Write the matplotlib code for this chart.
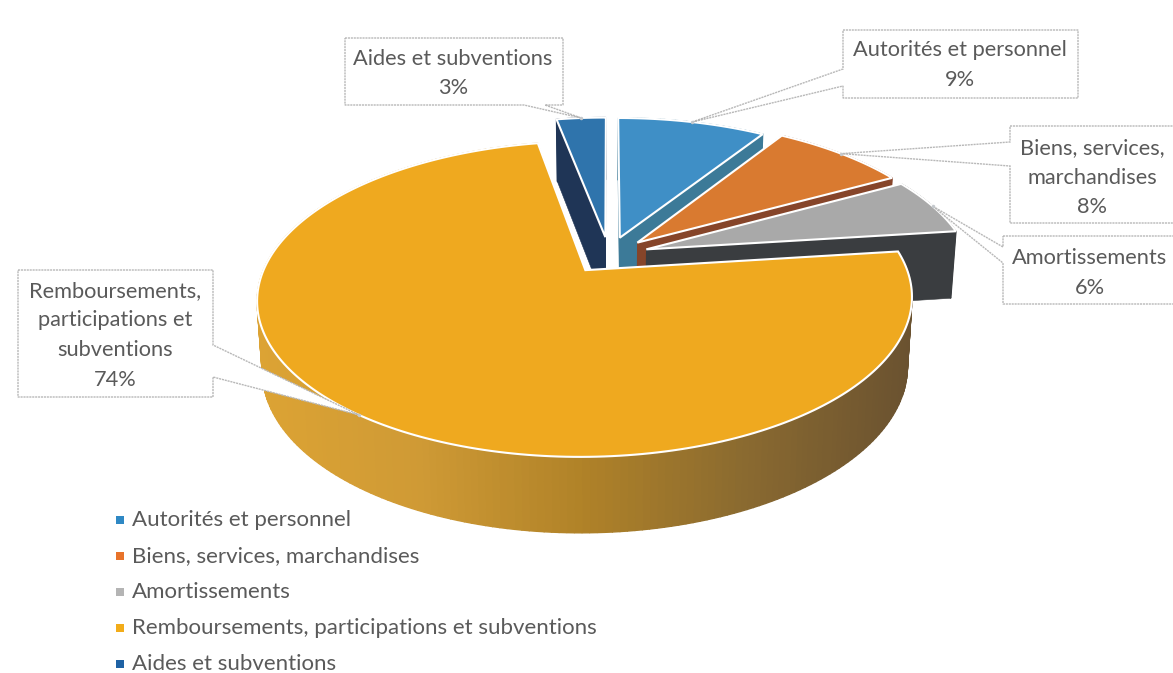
import numpy as np
import matplotlib
matplotlib.use('agg')
import matplotlib.pyplot as plt
from matplotlib.colors import LinearSegmentedColormap
from matplotlib.patches import Polygon

categories = ["Autorités et personnel", "Biens, services, marchandises", "Amortissements",
              "Remboursements, participations et subventions", "Aides et subventions"]
values = [9, 8, 6, 74, 3]
label_lines = ["Autorités et personnel", "Biens, services,\nmarchandises", "Amortissements",
               "Remboursements,\nparticipations et\nsubventions", "Aides et subventions"]
top_colors = ["#3f8fc6", "#d97a30", "#a9a9a9", "#efa91f", "#2f74ac"]
wall_colors = ["#3c7a98", "#86452a", "#3a3d40", "#c8922e", "#1f3556"]
legend_colors = ["#2f88c4", "#e8732a", "#b4b4b4", "#f2ac1a", "#1f62a4"]

# label box (left, top, right, bottom), two callout roots
boxes = [(843, 30, 1078, 98), (1010, 126, 1180, 223), (1003, 236, 1180, 304),
         (18, 270, 213, 397), (345, 38, 563, 105)]
roots = [((843, 69), (843, 86)), ((1010, 142), (1010, 166)), ((1003, 247), (1003, 263)),
         ((213, 345), (213, 377)), ((524, 105), (545, 105))]
text_x = [960, 1092, 1090, 115, 453]
text_y = [50, 148, 258, 291, 59]

# projection of the pie plane onto the page
CX, CY, AX, BY, PERSP, DEPTH, EXPLODE = 609, 255, 316, 147, 0.18, 68, 0.125
radius = [1.0, 1.025, 1.02, 1.0, 1.0]


def project(u, v, z=0):
    w = 1 + PERSP * v
    x = CX + AX * u / w * (1 - 0.015 * z)
    y = CY - BY * v / w + DEPTH / np.sqrt(w) * z
    return np.column_stack([np.atleast_1d(x), np.atleast_1d(y)])


def rim(t, mid, r=1.0):
    ex, ey = EXPLODE * np.sin(mid), EXPLODE * np.cos(mid)
    return ex + r * np.sin(t), ey + r * np.cos(t)


fig, ax = plt.subplots(figsize=(11.73, 6.73), dpi=100)
fig.subplots_adjust(0, 0, 1, 1)
ax.set_xlim(0, 1173)
ax.set_ylim(673, 0)
ax.axis("off")

plt.rcParams['font.family'] = ['Lato', 'DejaVu Sans']
TEXT = "#5a5a5a"

angles = np.radians(np.cumsum([0] + values) * 3.6)
gradient = LinearSegmentedColormap.from_list(
    "wall", ["#dca334", "#cf9a35", "#b08228", "#8a6a30", "#6a5230"])

draw_order = [4, 0, 1, 2, 3]
tips = {}
for layer, i in enumerate(draw_order):
    start, end = angles[i], angles[i + 1]
    mid = (start + end) / 2
    t = np.linspace(start, end, 240 if values[i] > 50 else 40)
    u, v = rim(t, mid, radius[i])
    apex_u, apex_v = EXPLODE * np.sin(mid), EXPLODE * np.cos(mid)

    # outer wall
    top_edge = project(u, v, 0)
    low_edge = project(u, v, 1)
    for k in range(len(t) - 1):
        quad = [top_edge[k], top_edge[k + 1], low_edge[k + 1], low_edge[k]]
        if i == 3:
            c = gradient(np.clip((top_edge[k, 0] - 257) / 656, 0, 1))
        else:
            c = wall_colors[i]
        ax.add_patch(Polygon(quad, closed=True, fc=c, ec=c, lw=1.0, zorder=2 + layer))

    # the two cut faces
    for e in (0, -1):
        face = np.vstack([project(apex_u, apex_v, 0), top_edge[e], low_edge[e], project(apex_u, apex_v, 1)])
        ax.add_patch(Polygon(face, closed=True, fc=wall_colors[i], ec=wall_colors[i], lw=0.4, zorder=2 + layer))

    # top of the slice
    outline = np.vstack([project(apex_u, apex_v, 0), top_edge])
    ax.add_patch(Polygon(outline, closed=True, fc=top_colors[i], ec="white", lw=1.5, joinstyle="miter", zorder=2 + layer))

    tips[i] = project(*rim(mid, mid, radius[i]))[0]

# data labels with callouts
for i in range(len(values)):
    left, top, right, bottom = boxes[i]
    r1, r2 = roots[i]
    tip = tuple(tips[i])
    if i in (0, 1, 2):
        path = [(left, top), (right, top), (right, bottom), (left, bottom), r2, tip, r1]
    elif i == 3:
        path = [(left, top), (right, top), r1, tip, r2, (right, bottom), (left, bottom)]
    else:
        path = [(left, top), (right, top), (right, bottom), r2, tip, r1, (left, bottom)]
    ax.add_patch(Polygon(path, closed=True, fc="white", ec="#b8b8b8", lw=1.0, ls=(0, (1.5, 0.6)), zorder=10))
    ax.plot([tip[0]], [tip[1]], marker="o", ms=2.5, color="#c4c8cc", mew=0, zorder=11)
    lines = label_lines[i].split("\n") + ["%d%%" % values[i]]
    for n, line in enumerate(lines):
        ax.text(text_x[i], text_y[i] + n * 29.5, line, ha="center", va="center",
                fontsize=15.7, color=TEXT, zorder=12)

# legend
legend_y = [520, 556, 592, 628, 664]
for name, c, y in zip(categories, legend_colors, legend_y):
    ax.plot([120], [y], marker="s", ms=5.5, color=c, mew=0, zorder=5)
    ax.text(132, y, name, ha="left", va="center", fontsize=16, color=TEXT, zorder=5)

fig.savefig("out.png", dpi=100)
